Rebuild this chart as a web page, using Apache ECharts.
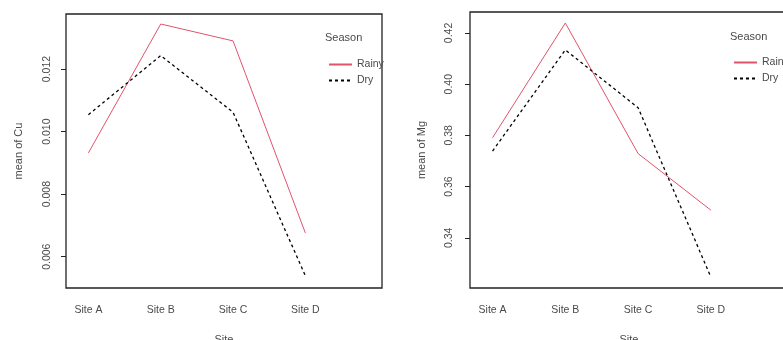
<!DOCTYPE html>
<html><head><meta charset="utf-8">
<script src="https://cdn.jsdelivr.net/npm/echarts@6/dist/echarts.min.js"></script>
<style>html,body{margin:0;padding:0;background:#fff}#c{width:783px;height:340px}</style>
</head><body><div id="c"></div>
<script>
const sites = ['Site A', 'Site B', 'Site C', 'Site D'];
const seasons = ['Rainy', 'Dry'];
const cuRainy = [0.00932, 0.01344, 0.01290, 0.00676];
const cuDry = [0.01054, 0.01243, 0.01062, 0.00539];
const mgRainy = [0.3791, 0.4239, 0.3729, 0.3508];
const mgDry = [0.3739, 0.4134, 0.3908, 0.3247];
const cuTicks = [0.006, 0.008, 0.010, 0.012];
const mgTicks = [0.34, 0.36, 0.38, 0.40, 0.42];
const cuTickLabels = ['0.006', '0.008', '0.010', '0.012'];
const mgTickLabels = ['0.34', '0.36', '0.38', '0.40', '0.42'];

const FONT = 'Liberation Sans, Arial, sans-serif';
const TXT = '#4a4a4a';
const pts = arr => arr.map((v, i) => [i + 1, v]);

function xAx(gi) {
  return {
    type: 'value', gridIndex: gi, min: 0.69, max: 5.06,
    name: 'Site', nameLocation: 'middle', nameGap: 46,
    nameTextStyle: { fontFamily: FONT, fontSize: 11, color: TXT },
    axisLine: { show: false }, axisTick: { show: false }, splitLine: { show: false },
    axisLabel: {
      customValues: [1, 2, 3, 4], margin: 17, fontFamily: FONT, fontSize: 10.5, color: TXT,
      formatter: v => sites[Math.round(v) - 1] || ''
    }
  };
}
function yAx(gi, min, max, ticks, labels, name, margin, gap) {
  return {
    type: 'value', gridIndex: gi, min: min, max: max,
    name: name, nameLocation: 'middle', nameGap: gap, nameRotate: 90,
    nameTextStyle: { fontFamily: FONT, fontSize: 11, color: TXT },
    axisLine: { show: false }, splitLine: { show: false },
    axisTick: { show: true, customValues: ticks, length: 5, lineStyle: { color: '#222', width: 1 } },
    axisLabel: {
      customValues: ticks, rotate: 90, margin: margin, fontFamily: FONT, fontSize: 10.5, color: TXT,
      formatter: v => { const i = ticks.findIndex(t => Math.abs(t - v) < 1e-9); return i >= 0 ? labels[i] : ''; }
    }
  };
}
function legendFor(left, top) {
  return {
    data: seasons, orient: 'vertical', left: left, top: top, padding: 0, itemWidth: 23, itemHeight: 10, itemGap: 5,
    itemStyle: { opacity: 0 },
    textStyle: { fontFamily: FONT, fontSize: 10.5, color: TXT }, selectedMode: false
  };
}
const rainyStyle = { color: '#DF536B', width: 1 };
const dryStyle = { color: '#000', width: 1.3, type: [3, 3] };

const option = {
  animation: false,
  title: [
    { text: 'Season', left: 325, top: 32, padding: 0, textStyle: { fontFamily: FONT, fontSize: 11, fontWeight: 'normal', color: TXT } },
    { text: 'Season', left: 730, top: 31, padding: 0, textStyle: { fontFamily: FONT, fontSize: 11, fontWeight: 'normal', color: TXT } }
  ],
  grid: [
    { left: 66, top: 14, width: 316, height: 274, outerBoundsMode: 'none', containLabel: false, show: true, borderColor: '#222', borderWidth: 1.3, backgroundColor: 'transparent' },
    { left: 470, top: 12, width: 318, height: 276, outerBoundsMode: 'none', containLabel: false, show: true, borderColor: '#222', borderWidth: 1.3, backgroundColor: 'transparent' }
  ],
  legend: [legendFor(328, 59), legendFor(733, 57)],
  xAxis: [xAx(0), xAx(1)],
  yAxis: [
    yAx(0, 0.0050, 0.01376, cuTicks, cuTickLabels, 'mean of Cu', 13, 42),
    yAx(1, 0.3204, 0.4282, mgTicks, mgTickLabels, 'mean of Mg', 15, 43)
  ],
  series: [
    { name: 'Rainy', type: 'line', xAxisIndex: 0, yAxisIndex: 0, data: pts(cuRainy), symbol: 'none', lineStyle: rainyStyle, itemStyle: { color: '#DF536B' } },
    { name: 'Dry', type: 'line', xAxisIndex: 0, yAxisIndex: 0, data: pts(cuDry), symbol: 'none', lineStyle: dryStyle, itemStyle: { color: '#000' } },
    { name: 'Rainy', type: 'line', xAxisIndex: 1, yAxisIndex: 1, data: pts(mgRainy), symbol: 'none', lineStyle: rainyStyle, itemStyle: { color: '#DF536B' } },
    { name: 'Dry', type: 'line', xAxisIndex: 1, yAxisIndex: 1, data: pts(mgDry), symbol: 'none', lineStyle: dryStyle, itemStyle: { color: '#000' } }
  ]
};
const chart = echarts.init(document.getElementById('c'), null, { renderer: 'canvas' });
chart.setOption(option);
</script></body></html>
